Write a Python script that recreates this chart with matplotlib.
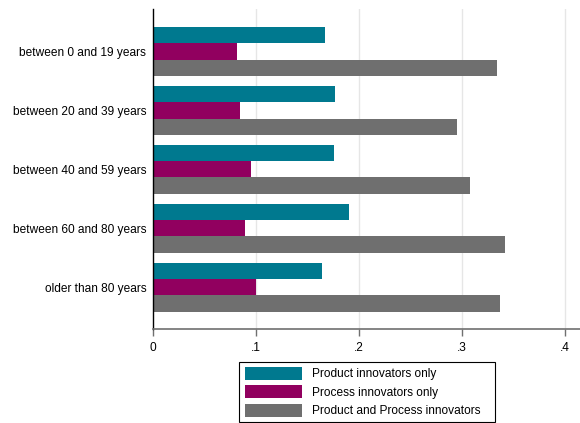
import matplotlib
matplotlib.use("Agg")
import matplotlib.pyplot as plt
from matplotlib.patches import Rectangle
import numpy as np

categories = ["between 0 and 19 years", "between 20 and 39 years", "between 40 and 59 years",
              "between 60 and 80 years", "older than 80 years"]
product_only = [0.1667, 0.1764, 0.1757, 0.190, 0.1638]
process_only = [0.0813, 0.0842, 0.0949, 0.089, 0.0997]
both = [0.3337, 0.2948, 0.3078, 0.3418, 0.3366]
series_names = ["Product innovators only", "Process innovators only", "Product and Process innovators"]
colors = ["#00798F", "#91005F", "#6F6F6F"]
xticks = [0, 0.1, 0.2, 0.3, 0.4]
xticklabels = ["0", ".1", ".2", ".3", ".4"]

plt.rcParams['font.family'] = ['Liberation Sans', 'DejaVu Sans']

W, H = 580, 423
fig = plt.figure(figsize=(W / 100, H / 100), dpi=100)
left, right, top, bottom = 153.3, 580, 9, 329
ax = fig.add_axes([left / W, 1 - bottom / H, (right - left) / W, (bottom - top) / H])

x0_px = 153.3
px_per_unit = 1030.0
ax.set_xlim(0, (right - x0_px) / px_per_unit)
ax.set_ylim(4.71, -0.72)

y = np.arange(len(categories))
h = 0.277
for i, (vals, c, name) in enumerate(zip([product_only, process_only, both], colors, series_names)):
    ax.barh(y + (i - 1) * h, vals, height=h, color=c, label=name, zorder=3, linewidth=0)

fs = 8.55
ax.set_yticks(y)
ax.set_yticklabels(categories, fontsize=fs)
ax.tick_params(axis='y', length=0, pad=5)
ax.set_xticks(xticks)
ax.set_xticklabels(xticklabels, fontsize=fs)
ax.tick_params(axis='x', length=5, width=1, color="#707070", pad=4)

for xv in xticks[1:]:
    ax.axvline(xv, color="#e6e6e6", linewidth=1, zorder=1)

for s in ["top", "right"]:
    ax.spines[s].set_visible(False)
ax.spines["left"].set_color("black")
ax.spines["left"].set_linewidth(1)
ax.spines["left"].set_zorder(5)
ax.spines["bottom"].set_color("#707070")
ax.spines["bottom"].set_linewidth(1.2)
ax.spines["bottom"].set_zorder(5)

# legend frame
fig.patches.append(Rectangle((239 / W, 1 - 422.3 / H), (495 - 239) / W, (422.3 - 361.7) / H,
                             transform=fig.transFigure, fill=False, edgecolor="black",
                             linewidth=0.8))
leg = fig.legend(loc="upper left", bbox_to_anchor=(245 / W, 1 - 366.8 / H), fontsize=fs,
                 frameon=False, borderpad=0,
                 handlelength=4.8, handleheight=1.3, handletextpad=0.85, labelspacing=0.42,
                 borderaxespad=0)

fig.savefig("out.png", dpi=100)
